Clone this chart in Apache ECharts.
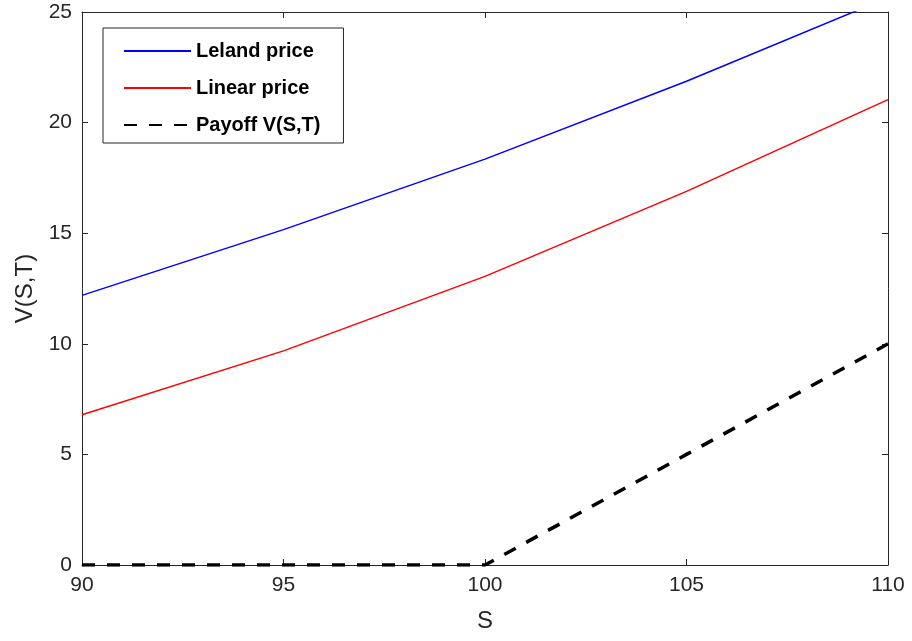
<!DOCTYPE html>
<html>
<head>
<meta charset="utf-8">
<script src="https://cdn.jsdelivr.net/npm/echarts@6/dist/echarts.min.js"></script>
<style>
html,body{margin:0;padding:0;background:#fff;}
#main{width:912px;height:641px;}
</style>
</head>
<body>
<div id="main"></div>
<script>
var S = [90, 95, 100, 105, 110];
var lelandPrice = [12.19, 15.16, 18.35, 21.87, 25.65];
var linearPrice = [6.79, 9.68, 13.05, 16.89, 21.04];
var payoff = [0, 0, 0, 5, 10];
var seriesNames = ['Leland price', 'Linear price', 'Payoff V(S,T)'];
var xLabel = 'S';
var yLabel = 'V(S,T)';

function pairs(xs, ys) { return xs.map(function (x, i) { return [x, ys[i]]; }); }

var axisColor = '#262626';
var font = 'Liberation Sans, Arial, Helvetica, sans-serif';

var chart = echarts.init(document.getElementById('main'), null, { renderer: 'canvas' });
var baseX = {
  type: 'value', min: 90, max: 110, interval: 5,
  axisLine: { show: true, onZero: false, lineStyle: { color: axisColor, width: 1 } },
  axisTick: { show: true, inside: true, length: 6, lineStyle: { color: axisColor } },
  splitLine: { show: false }
};
var baseY = {
  type: 'value', min: 0, max: 25, interval: 5,
  axisLine: { show: true, onZero: false, lineStyle: { color: axisColor, width: 1 } },
  axisTick: { show: true, inside: true, length: 6, lineStyle: { color: axisColor } },
  splitLine: { show: false }
};
var option = {
  backgroundColor: '#fff',
  animation: false,
  grid: { left: 82, right: 24, top: 12, bottom: 76, containLabel: false },
  xAxis: [
    Object.assign({}, baseX, {
      position: 'bottom',
      name: xLabel, nameLocation: 'middle', nameGap: 44,
      nameTextStyle: { fontFamily: font, fontSize: 24, color: axisColor },
      axisLabel: { show: true, margin: 10, fontFamily: font, fontSize: 21, color: axisColor }
    }),
    Object.assign({}, baseX, { position: 'top', axisLabel: { show: false } })
  ],
  yAxis: [
    Object.assign({}, baseY, {
      position: 'left',
      name: yLabel, nameLocation: 'middle', nameGap: 44,
      nameTextStyle: { fontFamily: font, fontSize: 24, color: axisColor },
      axisLabel: { show: true, margin: 10, fontFamily: font, fontSize: 21, color: axisColor }
    }),
    Object.assign({}, baseY, { position: 'right', axisLabel: { show: false } })
  ],
  legend: {
    orient: 'vertical', left: 103, top: 28,
    backgroundColor: '#fff', borderColor: axisColor, borderWidth: 1, borderRadius: 0,
    padding: [13, 23, 8, 20],
    itemWidth: 67, itemHeight: 14, itemGap: 17,
    itemStyle: { opacity: 0 },
    textStyle: { fontFamily: font, fontSize: 20, fontWeight: 'bold', color: '#000' },
    data: seriesNames.slice()
  },
  series: [
    {
      name: seriesNames[0], type: 'line', data: pairs(S, lelandPrice),
      symbol: 'none', clip: true, xAxisIndex: 0, yAxisIndex: 0,
      lineStyle: { color: '#0000ff', width: 1.5 }, itemStyle: { color: '#0000ff' }
    },
    {
      name: seriesNames[1], type: 'line', data: pairs(S, linearPrice),
      symbol: 'none', clip: true, xAxisIndex: 0, yAxisIndex: 0,
      lineStyle: { color: '#ff0000', width: 1.5 }, itemStyle: { color: '#ff0000' }
    },
    {
      name: seriesNames[2], type: 'line', data: pairs(S, payoff),
      symbol: 'none', clip: true, xAxisIndex: 0, yAxisIndex: 0,
      lineStyle: { color: '#000', width: 3.5, type: [13, 12], cap: 'butt' }, itemStyle: { color: '#000' }
    }
  ]
};
chart.setOption(option);
</script>
</body>
</html>
